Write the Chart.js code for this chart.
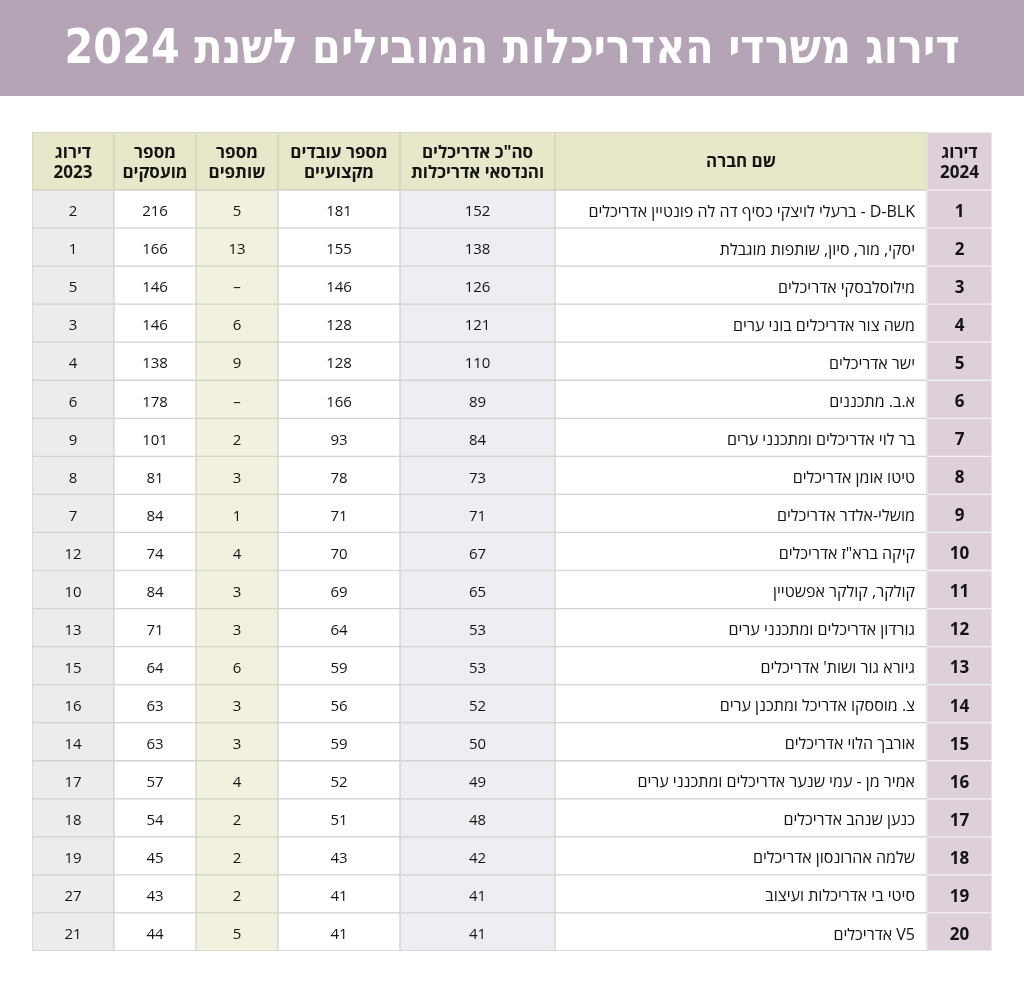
<!DOCTYPE html>
<html lang="he">
<head>
<meta charset="utf-8">
<script src="https://cdn.jsdelivr.net/npm/chart.js@4/dist/chart.umd.min.js"></script>
<style>
  html, body { margin: 0; padding: 0; background: #ffffff; }
  canvas { display: block; }
</style>
</head>
<body>
<canvas id="c" width="1024" height="1000"></canvas>
<script>
// ---------- DATA ----------
const titleText = "דירוג משרדי האדריכלות המובילים לשנת 2024";

const headerRank2023 = ["דירוג", "2023"];
const headerEmployees = ["מספר", "מועסקים"];
const headerPartners = ["מספר", "שותפים"];
const headerProfessionals = ["מספר עובדים", "מקצועיים"];
const headerArchitects = ["סה\"כ אדריכלים", "והנדסאי אדריכלות"];
const headerName = ["שם חברה"];
const headerRank2024 = ["דירוג", "2024"];

const rank2024 = [1, 2, 3, 4, 5, 6, 7, 8, 9, 10, 11, 12, 13, 14, 15, 16, 17, 18, 19, 20];
const companyNames = [
  "D-BLK - ברעלי לויצקי כסיף דה לה פונטיין אדריכלים",
  "יסקי, מור, סיון, שותפות מוגבלת",
  "מילוסלבסקי אדריכלים",
  "משה צור אדריכלים בוני ערים",
  "ישר אדריכלים",
  "א.ב. מתכננים",
  "בר לוי אדריכלים ומתכנני ערים",
  "טיטו אומן אדריכלים",
  "מושלי-אלדר אדריכלים",
  "קיקה ברא\"ז אדריכלים",
  "קולקר, קולקר אפשטיין",
  "גורדון אדריכלים ומתכנני ערים",
  "גיורא גור ושות' אדריכלים",
  "צ. מוססקו אדריכל ומתכנן ערים",
  "אורבך הלוי אדריכלים",
  "אמיר מן - עמי שנער אדריכלים ומתכנני ערים",
  "כנען שנהב אדריכלים",
  "שלמה אהרונסון אדריכלים",
  "סיטי בי אדריכלות ועיצוב",
  "V5 אדריכלים"
];
const totalArchitects = [152, 138, 126, 121, 110, 89, 84, 73, 71, 67, 65, 53, 53, 52, 50, 49, 48, 42, 41, 41];
const professionals = [181, 155, 146, 128, 128, 166, 93, 78, 71, 70, 69, 64, 59, 56, 59, 52, 51, 43, 41, 41];
const partners = [5, 13, null, 6, 9, null, 2, 3, 1, 4, 3, 3, 6, 3, 3, 4, 2, 2, 2, 5];
const employees = [216, 166, 146, 146, 138, 178, 101, 81, 84, 74, 84, 71, 64, 63, 63, 57, 54, 45, 43, 44];
const rank2023 = [2, 1, 5, 3, 4, 6, 9, 8, 7, 12, 10, 13, 15, 16, 14, 17, 18, 19, 27, 21];

// ---------- LAYOUT (table units) ----------
const colEdges = [0, 82, 164, 246, 368, 523, 895, 960];
const HEADER_H = 58;
const ROW_H = 38.05;
const TABLE_H = HEADER_H + ROW_H * rank2024.length;

const fmt = v => (v === null || v === undefined) ? "–" : String(v);

const columns = [
  { header: headerRank2023, values: rank2023.map(fmt), bg: "#ececef", border: "#d3d3d6", align: "center", font: "15px" },
  { header: headerEmployees, values: employees.map(fmt), bg: "#ffffff", border: "#d3d3d6", align: "center", font: "15px" },
  { header: headerPartners, values: partners.map(fmt), bg: "#f2f1df", border: "#d6d5c4", align: "center", font: "15px" },
  { header: headerProfessionals, values: professionals.map(fmt), bg: "#ffffff", border: "#d3d3d6", align: "center", font: "15px" },
  { header: headerArchitects, values: totalArchitects.map(fmt), bg: "#eeedf1", border: "#d3d3d6", align: "center", font: "15px" },
  { header: headerName, values: companyNames, bg: "#ffffff", border: "#d3d3d6", align: "right", font: "16px" },
  { header: headerRank2024, values: rank2024.map(fmt), bg: "#ddd0db", border: "#f4eff3", align: "center", font: "bold 17px" }
];

const rowCenter = i => HEADER_H + ROW_H * i + ROW_H / 2;

const datasets = [];
// header row
datasets.push({
  label: "header",
  data: columns.map((c, ci) => ({ x: [colEdges[ci], colEdges[ci + 1]], y: HEADER_H / 2 })),
  backgroundColor: columns.map((c, ci) => ci === 6 ? "#ddd0db" : "#e8e7c9"),
  borderColor: columns.map((c, ci) => ci === 6 ? "#f4eff3" : "#d4d3bb"),
  borderWidth: 1,
  borderSkipped: false,
  barThickness: HEADER_H,
  grouped: false
});
columns.forEach((c, ci) => {
  datasets.push({
    label: "col" + ci,
    data: c.values.map((v, i) => ({ x: [colEdges[ci], colEdges[ci + 1]], y: rowCenter(i) })),
    backgroundColor: c.bg,
    borderColor: c.border,
    borderWidth: 1,
    borderSkipped: false,
    barThickness: ROW_H,
    grouped: false
  });
});

const FONT = '"Open Sans", "DejaVu Sans", "Liberation Sans", sans-serif';

const titlePlugin = {
  id: "titleBar",
  beforeDraw(chart) {
    const ctx = chart.ctx;
    ctx.save();
    ctx.fillStyle = "#b4a4b5";
    ctx.fillRect(0, 0, chart.width, 96);
    ctx.font = 'bold 48px "DejaVu Sans Condensed", "DejaVu Sans", sans-serif';
    ctx.direction = "rtl";
    ctx.textAlign = "center";
    ctx.textBaseline = "middle";
    const w = ctx.measureText(titleText).width;
    const target = 895;
    const sx = target / w;
    ctx.translate(512, 51);
    ctx.scale(sx, 1);
    ctx.fillStyle = "#ffffff";
    ctx.fillText(titleText, 0, 0);
    ctx.restore();
  }
};

const textPlugin = {
  id: "cellText",
  afterDatasetsDraw(chart) {
    const ctx = chart.ctx;
    const xs = chart.scales.x, ys = chart.scales.y;
    ctx.save();
    ctx.direction = "rtl";
    ctx.textBaseline = "middle";
    ctx.fillStyle = "#141414";
    // headers
    columns.forEach((c, ci) => {
      const cx = xs.getPixelForValue((colEdges[ci] + colEdges[ci + 1]) / 2);
      ctx.font = "bold 17px " + FONT;
      ctx.textAlign = "center";
      const n = c.header.length;
      c.header.forEach((line, li) => {
        const yv = n === 1 ? HEADER_H / 2 + 1 : HEADER_H / 2 + 2 + (li - 0.5) * 20;
        ctx.fillText(line, cx, ys.getPixelForValue(yv));
      });
    });
    // body
    columns.forEach((c, ci) => {
      ctx.font = c.font + " " + FONT;
      c.values.forEach((v, i) => {
        const y = ys.getPixelForValue(rowCenter(i)) + 3;
        if (c.align === "right") {
          ctx.textAlign = "right";
          ctx.fillText(v, xs.getPixelForValue(colEdges[ci + 1] - 12), y);
        } else {
          ctx.textAlign = "center";
          ctx.fillText(v, xs.getPixelForValue((colEdges[ci] + colEdges[ci + 1]) / 2), y);
        }
      });
    });
    ctx.restore();
  }
};

new Chart(document.getElementById("c"), {
  type: "bar",
  data: { datasets },
  options: {
    indexAxis: "y",
    responsive: false,
    devicePixelRatio: 1,
    animation: false,
    events: [],
    layout: { padding: { left: 32, right: 32, top: 132, bottom: 1000 - 132 - 819 } },
    plugins: { legend: { display: false }, tooltip: { enabled: false }, title: { display: false } },
    scales: {
      x: { type: "linear", min: 0, max: 960, display: false, offset: false },
      y: { type: "linear", min: 0, max: TABLE_H, reverse: true, display: false, offset: false }
    }
  },
  plugins: [titlePlugin, textPlugin]
});
</script>
</body>
</html>
